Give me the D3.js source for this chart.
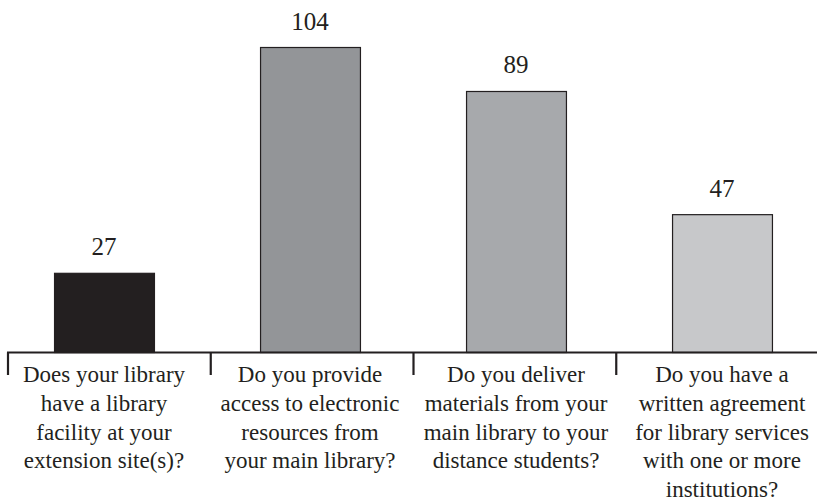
<!DOCTYPE html>
<html>
<head>
<meta charset="utf-8">
<script src="https://cdn.jsdelivr.net/npm/d3@7"></script>
<style>
  html, body { margin: 0; padding: 0; background: #ffffff; }
  svg { display: block; }
</style>
</head>
<body>
<svg id="chart" width="817" height="501"></svg>
<script>
// Survey questions (one per bar), answer counts and bar fills
const categories = [
  "Does your library have a library facility at your extension site(s)?",
  "Do you provide access to electronic resources from your main library?",
  "Do you deliver materials from your main library to your distance students?",
  "Do you have a written agreement for library services with one or more institutions?"
];
const labelLines = [
  ["Does your library", "have a library", "facility at your", "extension site(s)?"],
  ["Do you provide", "access to electronic", "resources from", "your main library?"],
  ["Do you deliver", "materials from your", "main library to your", "distance students?"],
  ["Do you have a", "written agreement", "for library services", "with one or more", "institutions?"]
];
const values = [27, 104, 89, 47];
const fills = ["#231f20", "#939598", "#a7a9ac", "#c7c8ca"];

const svg = d3.select("#chart");
const ink = "#231f20";
const serif = "'Liberation Serif', 'Times New Roman', Times, serif";
const baseY = 352.5;

const x = d3.scaleBand()
  .domain(categories)
  .range([1, 825])
  .paddingInner(0.515)
  .paddingOuter(0.2575);

// Axis sections: one tick at the left edge of each question's section
const section = d3.scaleBand()
  .domain(categories)
  .range([8, 819])
  .padding(0);

const y = d3.scaleLinear()
  .domain([0, 104])
  .range([baseY, 47.5]);

// Bars
svg.append("g")
  .selectAll("rect")
  .data(categories)
  .join("rect")
  .attr("x", d => x(d) + 0.5)
  .attr("y", (d, i) => y(values[i]))
  .attr("width", x.bandwidth())
  .attr("height", (d, i) => baseY - y(values[i]))
  .attr("fill", (d, i) => fills[i])
  .attr("stroke", ink)
  .attr("stroke-width", 1.2);

// Value labels
svg.append("g")
  .selectAll("text")
  .data(categories)
  .join("text")
  .attr("x", d => x(d) + x.bandwidth() / 2)
  .attr("y", (d, i) => y(values[i]) - 18)
  .attr("text-anchor", "middle")
  .style("font-family", serif)
  .style("font-size", "25px")
  .style("fill", ink)
  .text((d, i) => values[i]);

// Baseline and section ticks
svg.append("line")
  .attr("x1", section.range()[0] - 1)
  .attr("x2", 817)
  .attr("y1", baseY)
  .attr("y2", baseY)
  .attr("stroke", ink)
  .attr("stroke-width", 2.2);

svg.append("g")
  .selectAll("line")
  .data(categories)
  .join("line")
  .attr("x1", d => section(d))
  .attr("x2", d => section(d))
  .attr("y1", baseY)
  .attr("y2", 375)
  .attr("stroke", ink)
  .attr("stroke-width", 2.2);

// Category labels, wrapped onto several centred lines
const lab = svg.append("g")
  .selectAll("text")
  .data(categories)
  .join("text")
  .attr("text-anchor", "middle")
  .style("font-family", serif)
  .style("font-size", "23px")
  .style("fill", ink);

lab.each(function (d, i) {
  const cx = x(d) + x.bandwidth() / 2;
  d3.select(this)
    .selectAll("tspan")
    .data(labelLines[i])
    .join("tspan")
    .attr("x", cx)
    .attr("y", (s, k) => 382 + k * 28.8)
    .text(s => s);
});
</script>
</body>
</html>
